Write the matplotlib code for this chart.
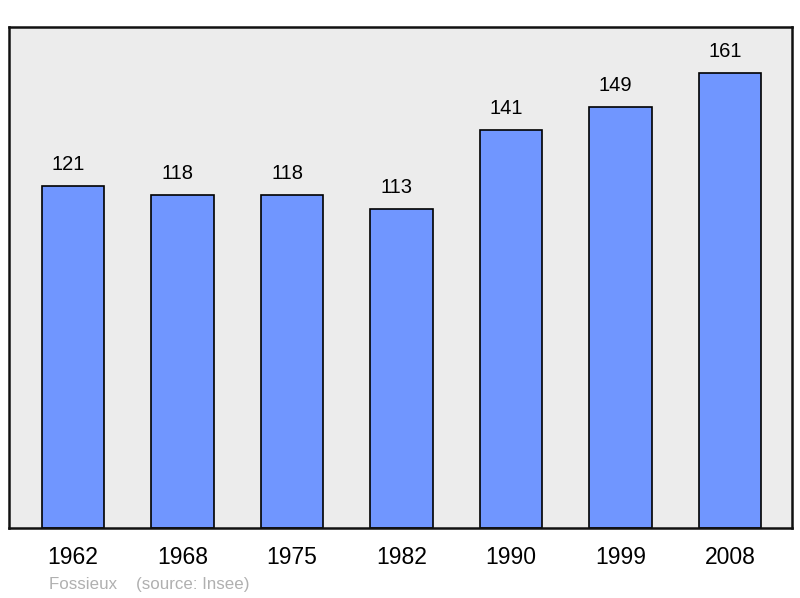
import matplotlib.pyplot as plt

years = ["1962", "1968", "1975", "1982", "1990", "1999", "2008"]
population = [121, 118, 118, 113, 141, 149, 161]

plt.rcParams['font.family'] = ['Liberation Sans', 'DejaVu Sans']

fig = plt.figure(figsize=(8, 5.98), dpi=100)
ax = fig.add_axes([9 / 800, 1 - 528 / 598, 783 / 800, 501 / 598])
ax.set_facecolor('#ececec')

x = range(len(years))
ax.bar(x, population, width=0.57, color='#7096ff', edgecolor='black', linewidth=1.2, zorder=2)

# value labels sit a little left of the bar centre, as in the original
for i, v in zip(x, population):
    ax.annotate(str(v), (i, v), xytext=(-3.5, 15.5), textcoords='offset points',
                ha='center', va='center', fontsize=14.5, color='black')

ax.set_xlim(-0.585, 6.565)
ax.set_ylim(0, 177.3)
ax.set_yticks([])
ax.set_xticks(list(x))
ax.set_xticklabels(years, fontsize=16.5)
ax.tick_params(axis='x', length=0, pad=13)
for s in ax.spines.values():
    s.set_linewidth(1.8)
    s.set_color('#111111')

fig.text(49 / 800, 1 - 584 / 598, "Fossieux    (source: Insee)", fontsize=12.2,
         color='#b0b0b0', va='center', ha='left')

fig.savefig("out.png", dpi=100)
